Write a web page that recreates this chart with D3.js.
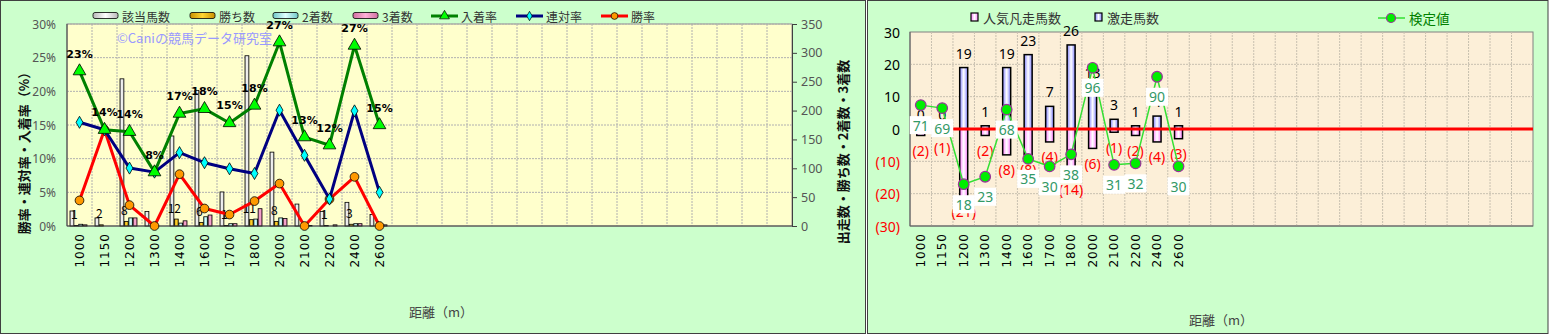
<!DOCTYPE html>
<html>
<head>
<meta charset="utf-8">
<script src="https://cdn.jsdelivr.net/npm/d3@7"></script>
<style>
  body { margin: 0; background: #fff; }
  svg { display: block; font-family: "Noto Sans CJK JP", "Noto Sans", sans-serif; }
</style>
</head>
<body>
<svg id="chart" width="1549" height="336"></svg>
<script>
// ---- data ----
const distances = ['1000', '1150', '1200', '1300', '1400', '1600', '1700', '1800', '2000', '2100', '2200', '2400', '2600'];
const slotCount = 29;

// left chart: counts
const runners = [26, 14, 255, 25, 156, 235, 59, 295, 128, 38, 25, 41, 20];
const wins    = [1, 2, 8, 0, 12, 6, 1, 11, 8, 0, 1, 3, 0];
const seconds = [3, 0, 14, 2, 5, 16, 4, 12, 14, 4, 0, 4, 1];
const thirds  = [2, 0, 14, 0, 9, 19, 4, 30, 13, 1, 2, 4, 2];
// left chart: rates (%)
const placeRate = [23.0, 14.3, 14.0, 8.0, 16.7, 17.4, 15.3, 17.9, 27.3, 13.2, 12.0, 26.8, 15.0];
const quinRate  = [15.4, 14.3, 8.6, 8.0, 10.9, 9.4, 8.5, 7.8, 17.2, 10.5, 4.0, 17.1, 5.0];
const winRate   = [3.8, 14.3, 3.1, 0.0, 7.7, 2.6, 1.7, 3.7, 6.3, 0.0, 4.0, 7.3, 0.0];
const placeLabels = ['23%', '14%', '14%', '8%', '17%', '18%', '15%', '18%', '27%', '13%', '12%', '27%', '15%'];

// right chart
const gekisou = [0, 0, 19, 1, 19, 23, 7, 26, 13, 3, 1, 4, 1];
const bonsou  = [2, 1, 21, 2, 8, 8, 4, 14, 6, 1, 2, 4, 3];
const kentei  = [71, 69, 18, 23, 68, 35, 30, 38, 96, 31, 32, 90, 30];

const pctTicks = [0, 5, 10, 15, 20, 25, 30];
const cntTicks = [0, 50, 100, 150, 200, 250, 300, 350];
const rTicks = [-30, -20, -10, 0, 10, 20, 30];

const svg = d3.select('#chart');
const defs = svg.append('defs');

function hGrad(id, edge, mid) {
  const g = defs.append('linearGradient').attr('id', id).attr('x1', 0).attr('x2', 1).attr('y1', 0).attr('y2', 0);
  g.append('stop').attr('offset', '0%').attr('stop-color', edge);
  g.append('stop').attr('offset', '50%').attr('stop-color', mid);
  g.append('stop').attr('offset', '100%').attr('stop-color', edge);
}
hGrad('gRun', '#b8b8b8', '#ffffff');
hGrad('gWin', '#c89000', '#ffd633');
hGrad('gSec', '#70c8c8', '#e0ffff');
hGrad('gThi', '#d070a0', '#ffb0d8');
hGrad('gBlue', '#8080ff', '#ffffff');
hGrad('gPink', '#ff80ff', '#ffffff');

// ---- panels ----
svg.append('rect').attr('x', 0.5).attr('y', 0.5).attr('width', 865).attr('height', 333)
  .attr('fill', '#ccffcc').attr('stroke', '#404040');
svg.append('rect').attr('x', 867.5).attr('y', 0.5).attr('width', 680.5).attr('height', 333)
  .attr('fill', '#ccffcc').attr('stroke', '#404040');

// ================= LEFT CHART =================
const left = svg.append('g');
const xL = d3.scaleBand().domain(d3.range(slotCount)).range([67, 792]);
const yPct = d3.scaleLinear().domain([0, 30]).range([226, 24]);
const yCnt = d3.scaleLinear().domain([0, 350]).range([226, 24]);
const barKeys = ['runners', 'wins', 'seconds', 'thirds'];
const x1 = d3.scaleBand().domain(barKeys).range([3, 20.5]);
const barFill = { runners: 'url(#gRun)', wins: 'url(#gWin)', seconds: 'url(#gSec)', thirds: 'url(#gThi)' };
const counts = { runners, wins, seconds, thirds };

left.append('rect').attr('x', 67).attr('y', 24).attr('width', 725).attr('height', 202)
  .attr('fill', '#ffffcc').attr('stroke', '#909090');

// grid
left.append('g').selectAll('line').data(pctTicks.slice(1))
  .join('line')
  .attr('x1', 67).attr('x2', 792)
  .attr('y1', d => yPct(d)).attr('y2', d => yPct(d))
  .attr('stroke', '#b0b0b0').attr('stroke-dasharray', '2,1');
left.append('g').selectAll('line').data(d3.range(1, slotCount))
  .join('line')
  .attr('x1', d => xL(d)).attr('x2', d => xL(d))
  .attr('y1', 24).attr('y2', 226)
  .attr('stroke', '#b0b0b0').attr('stroke-dasharray', '2,1');

// watermark
left.append('text').attr('x', 117).attr('y', 43).attr('font-size', 13).attr('fill', '#9999ff')
  .text('©Caniの競馬データ研究室');

// bars
const barData = [];
distances.forEach((d, i) => barKeys.forEach(k => barData.push({ i, k, v: counts[k][i] })));
left.append('g').selectAll('rect').data(barData)
  .join('rect')
  .attr('x', d => xL(d.i) + x1(d.k))
  .attr('width', x1.bandwidth() - 0.5)
  .attr('y', d => yCnt(d.v))
  .attr('height', d => yCnt(0) - yCnt(d.v))
  .attr('fill', d => barFill[d.k])
  .attr('stroke', '#000').attr('stroke-width', 0.8);

// win count labels
left.append('g').selectAll('text').data(distances.map((d, i) => i).filter(i => wins[i] > 0))
  .join('text')
  .attr('x', i => xL(i) + x1('wins'))
  .attr('y', i => yCnt(wins[i]) - 12)
  .attr('dominant-baseline', 'central').attr('text-anchor', 'middle')
  .attr('font-size', 12).attr('fill', '#000')
  .text(i => wins[i]);

// axes
const cx = i => xL(i) + xL.bandwidth() / 2;
left.append('line').attr('x1', 67).attr('x2', 67).attr('y1', 24).attr('y2', 226).attr('stroke', '#404040');
left.append('line').attr('x1', 67).attr('x2', 792).attr('y1', 226).attr('y2', 226).attr('stroke', '#404040');
const rAxis = left.append('g').attr('transform', 'translate(792,0)')
  .call(d3.axisRight(yCnt).tickValues(cntTicks).tickSize(5).tickPadding(4));
rAxis.select('.domain').attr('stroke', '#404040');
rAxis.selectAll('line').attr('stroke', '#404040');
rAxis.selectAll('text').attr('font-size', 12.5).attr('fill', '#555').attr('font-family', 'Noto Sans, sans-serif');

left.append('g').selectAll('text').data(pctTicks)
  .join('text')
  .attr('x', 56).attr('y', d => yPct(d))
  .attr('text-anchor', 'end').attr('dominant-baseline', 'central')
  .attr('font-size', 12).attr('fill', '#555').attr('font-family', 'Noto Sans, sans-serif')
  .text(d => d + '%');

left.append('g').selectAll('text').data(distances)
  .join('text')
  .attr('transform', (d, i) => `translate(${cx(i) + 4},233) rotate(-90)`)
  .attr('text-anchor', 'end').attr('font-size', 12).attr('letter-spacing', 1).attr('fill', '#000')
  .attr('font-family', 'DejaVu Sans, sans-serif')
  .text(d => d);

left.append('text').attr('transform', 'translate(29,150) rotate(-90)')
  .attr('text-anchor', 'middle').attr('font-size', 13).attr('font-weight', 'bold').attr('fill', '#111')
  .text('勝率・連対率・入着率（%）');
left.append('text').attr('transform', 'translate(848,152) rotate(-90)')
  .attr('text-anchor', 'middle').attr('font-size', 13).attr('font-weight', 'bold').attr('fill', '#111')
  .text('出走数・勝ち数・2着数・3着数');
left.append('text').attr('x', 441).attr('y', 317).attr('text-anchor', 'middle')
  .attr('font-size', 13).attr('fill', '#444').text('距離（m）');

// lines
const lineL = d3.line().x((d, i) => cx(i)).y(d => yPct(d));
const seriesL = [
  { name: '入着率', data: placeRate, color: '#008000', fill: '#00ff00', sym: d3.symbolTriangle, size: 70 },
  { name: '連対率', data: quinRate, color: '#000080', fill: '#00ffff', sym: d3.symbolDiamond, size: 42 },
  { name: '勝率', data: winRate, color: '#ff0000', fill: '#ff9900', sym: d3.symbolCircle, size: 60 }
];
seriesL.slice().reverse().forEach(s => {
  left.append('path').datum(s.data).attr('d', lineL)
    .attr('fill', 'none').attr('stroke', s.color).attr('stroke-width', 3).attr('stroke-linejoin', 'round');
  left.append('g').selectAll('path').data(s.data)
    .join('path')
    .attr('transform', (d, i) => `translate(${cx(i)},${yPct(d)})`)
    .attr('d', d3.symbol().type(s.sym).size(s.size))
    .attr('fill', s.fill).attr('stroke', '#000').attr('stroke-width', 0.8);
});
left.append('g').selectAll('text').data(placeLabels)
  .join('text')
  .attr('x', (d, i) => cx(i)).attr('y', (d, i) => yPct(placeRate[i]) - 17)
  .attr('text-anchor', 'middle').attr('dominant-baseline', 'central')
  .attr('font-size', 11).attr('font-weight', 'bold').attr('fill', '#000')
  .attr('font-family', 'DejaVu Sans, sans-serif')
  .text(d => d);

// legend
const legBars = [['該当馬数', 'runners', 93], ['勝ち数', 'wins', 190], ['2着数', 'seconds', 273], ['3着数', 'thirds', 353]];
legBars.forEach(([name, k, x]) => {
  left.append('rect').attr('x', x).attr('y', 12.5).attr('width', 25).attr('height', 6).attr('rx', 2)
    .attr('fill', barFill[k]).attr('stroke', '#000').attr('stroke-width', 0.8);
  left.append('text').attr('x', x + 29).attr('y', 16).attr('dominant-baseline', 'central')
    .attr('font-size', 12).attr('fill', '#333').text(name);
});
const legLines = [431, 516, 601];
seriesL.forEach((s, j) => {
  const x = legLines[j];
  left.append('line').attr('x1', x).attr('x2', x + 27).attr('y1', 16).attr('y2', 16)
    .attr('stroke', s.color).attr('stroke-width', 3);
  left.append('path').attr('transform', `translate(${x + 13.5},16)`)
    .attr('d', d3.symbol().type(s.sym).size(s.size * 0.6))
    .attr('fill', s.fill).attr('stroke', '#000').attr('stroke-width', 0.7);
  left.append('text').attr('x', x + 30).attr('y', 16).attr('dominant-baseline', 'central')
    .attr('font-size', 12).attr('fill', '#333').text(s.name);
});

// ================= RIGHT CHART =================
const right = svg.append('g');
const xR = d3.scaleBand().domain(d3.range(slotCount)).range([910, 1533]);
const yR = d3.scaleLinear().domain([-30, 30]).range([226, 32]);
const yK = d3.scaleLinear().domain([-10, 120]).range([226, 32]);
const cxR = i => xR(i) + xR.bandwidth() / 2;

right.append('rect').attr('x', 910).attr('y', 32).attr('width', 623).attr('height', 194)
  .attr('fill', '#fcefd8').attr('stroke', '#808080');
right.append('g').selectAll('line').data(rTicks.slice(1, -1))
  .join('line')
  .attr('x1', 910).attr('x2', 1533).attr('y1', d => yR(d)).attr('y2', d => yR(d))
  .attr('stroke', '#c8c0b0').attr('stroke-dasharray', '2,1');
right.append('g').selectAll('line').data(d3.range(1, slotCount))
  .join('line')
  .attr('x1', d => xR(d)).attr('x2', d => xR(d)).attr('y1', 32).attr('y2', 226)
  .attr('stroke', '#c8c0b0').attr('stroke-dasharray', '2,1');
right.append('line').attr('x1', 910).attr('x2', 910).attr('y1', 32).attr('y2', 226).attr('stroke', '#606060');
right.append('line').attr('x1', 910).attr('x2', 1533).attr('y1', 226).attr('y2', 226).attr('stroke', '#606060');

// bars
right.append('g').selectAll('rect').data(gekisou)
  .join('rect')
  .attr('x', (d, i) => cxR(i) - 4).attr('width', 8)
  .attr('y', d => yR(d)).attr('height', d => yR(0) - yR(d))
  .attr('fill', 'url(#gBlue)').attr('stroke', '#000').attr('stroke-width', 1.5);
right.append('g').selectAll('rect').data(bonsou)
  .join('rect')
  .attr('x', (d, i) => cxR(i) - 4).attr('width', 8)
  .attr('y', yR(0)).attr('height', d => yR(-d) - yR(0))
  .attr('fill', 'url(#gPink)').attr('stroke', '#000').attr('stroke-width', 1.5);

// zero line
right.append('line').attr('x1', xR(2)).attr('x2', 1533).attr('y1', yR(0)).attr('y2', yR(0))
  .attr('stroke', '#ff0000').attr('stroke-width', 3);

// bar labels
right.append('g').selectAll('text').data(gekisou)
  .join('text')
  .attr('x', (d, i) => cxR(i)).attr('y', d => yR(d) - 14.5)
  .attr('text-anchor', 'middle').attr('dominant-baseline', 'central')
  .attr('font-size', 14).attr('fill', '#000').attr('font-family', 'Noto Sans, sans-serif')
  .text(d => d);
right.append('g').selectAll('text').data(bonsou)
  .join('text')
  .attr('x', (d, i) => cxR(i)).attr('y', d => yR(-d) + 15)
  .attr('text-anchor', 'middle').attr('dominant-baseline', 'central')
  .attr('font-size', 14).attr('fill', '#ff0000').attr('font-family', 'Noto Sans, sans-serif')
  .text(d => `(${d})`);

// kentei line
right.append('path').datum(kentei)
  .attr('d', d3.line().x((d, i) => cxR(i)).y(d => yK(d)))
  .attr('fill', 'none').attr('stroke', '#33e033').attr('stroke-width', 1.5);
right.append('g').selectAll('circle').data(kentei)
  .join('circle')
  .attr('cx', (d, i) => cxR(i)).attr('cy', d => yK(d)).attr('r', 5.3)
  .attr('fill', '#00ee00').attr('stroke', '#993399').attr('stroke-width', 1.2);
const kl = right.append('g').selectAll('g').data(kentei).join('g')
  .attr('transform', (d, i) => `translate(${cxR(i)},${yK(d) + 20})`);
kl.append('rect').attr('x', -11).attr('y', -9).attr('width', 22).attr('height', 18).attr('fill', '#fff');
kl.append('text').attr('text-anchor', 'middle').attr('dominant-baseline', 'central')
  .attr('font-size', 14).attr('fill', '#339966').attr('font-family', 'Noto Sans, sans-serif')
  .text(d => d);

// y axis labels
right.append('g').selectAll('text').data(rTicks)
  .join('text')
  .attr('x', 900).attr('y', d => yR(d))
  .attr('text-anchor', 'end').attr('dominant-baseline', 'central')
  .attr('font-size', 14).attr('font-family', 'Noto Sans, sans-serif')
  .attr('fill', d => d < 0 ? '#ff0000' : '#000')
  .text(d => d < 0 ? `(${-d})` : d);

// x labels
right.append('g').selectAll('text').data(distances)
  .join('text')
  .attr('transform', (d, i) => `translate(${cxR(i) + 4},233) rotate(-90)`)
  .attr('text-anchor', 'end').attr('font-size', 12).attr('letter-spacing', 1).attr('fill', '#000')
  .attr('font-family', 'DejaVu Sans, sans-serif')
  .text(d => d);
right.append('text').attr('x', 1221).attr('y', 325).attr('text-anchor', 'middle')
  .attr('font-size', 13).attr('fill', '#444').text('距離（m）');

// legend
[['人気凡走馬数', 'url(#gPink)', 971], ['激走馬数', 'url(#gBlue)', 1095]].forEach(([name, fill, x]) => {
  right.append('rect').attr('x', x).attr('y', 13).attr('width', 7).attr('height', 8)
    .attr('fill', fill).attr('stroke', '#000').attr('stroke-width', 1.2);
  right.append('text').attr('x', x + 12).attr('y', 17).attr('dominant-baseline', 'central')
    .attr('font-size', 13).attr('fill', '#333').text(name);
});
right.append('line').attr('x1', 1378).attr('x2', 1405).attr('y1', 18).attr('y2', 18)
  .attr('stroke', '#33e033').attr('stroke-width', 1.5);
right.append('circle').attr('cx', 1391).attr('cy', 18).attr('r', 4.5)
  .attr('fill', '#00ee00').attr('stroke', '#993399').attr('stroke-width', 1.2);
right.append('text').attr('x', 1409).attr('y', 18).attr('dominant-baseline', 'central')
  .attr('font-size', 13.5).attr('fill', '#008000').text('検定値');
</script>
</body>
</html>
